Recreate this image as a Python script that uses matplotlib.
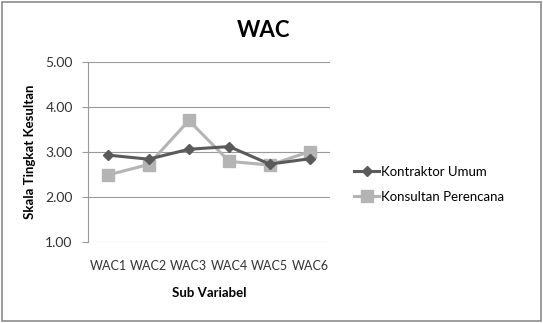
import matplotlib
matplotlib.use("Agg")
import matplotlib.pyplot as plt
from matplotlib.patches import Rectangle

plt.rcParams["font.family"] = ["Lato", "DejaVu Sans"]

categories = ["WAC1", "WAC2", "WAC3", "WAC4", "WAC5", "WAC6"]
kontraktor = [2.93, 2.84, 3.06, 3.12, 2.73, 2.85]
konsultan = [2.49, 2.72, 3.70, 2.79, 2.71, 3.01]
y_ticks = [1.0, 2.0, 3.0, 4.0, 5.0]

DARK = "#5a5a5a"
LIGHT = "#b4b4b4"
GRID = "#9a9a9a"

fig = plt.figure(figsize=(5.43, 3.23), dpi=100)
ax = fig.add_axes([0.162, 0.251, 0.446, 0.557])

x = list(range(len(categories)))
ax.plot(x, kontraktor, color=DARK, lw=2.2, marker="D", ms=5,
        label="Kontraktor Umum", zorder=3)
ax.plot(x, konsultan, color=LIGHT, lw=2.2, marker="s", ms=8,
        label="Konsultan Perencana", zorder=2)

ax.set_xlim(-0.5, 5.5)
ax.set_ylim(1.0, 5.0)
ax.set_yticks(y_ticks)
ax.set_yticklabels([f"{v:.2f}" for v in y_ticks], fontsize=10, color="#333")
ax.set_xticks(x)
ax.set_xticklabels(categories, fontsize=9, color="#333")
ax.tick_params(axis="x", length=0, pad=13)
ax.tick_params(axis="y", length=4, color=GRID, width=0.8, pad=7)
ax.grid(axis="y", color=GRID, lw=0.8)
ax.set_axisbelow(True)
for s in ["top", "right", "bottom"]:
    ax.spines[s].set_visible(False)
ax.spines["left"].set_color(GRID)
ax.spines["left"].set_linewidth(0.8)

ax.set_ylabel("Skala Tingkat Kesultan", fontsize=9.5, fontweight="bold", labelpad=7)
ax.set_xlabel("Sub Variabel", fontsize=9.5, fontweight="bold", labelpad=11)

fig.text(0.485, 0.905, "WAC", fontsize=16, fontweight="bold", ha="center", va="center")

ax.legend(loc="center left", bbox_to_anchor=(1.05, 0.32), frameon=False,
          fontsize=9.5, handlelength=1.9, handletextpad=0.1, labelspacing=0.95)

fig.patches.append(Rectangle((0.003, 0.005), 0.994, 0.99, transform=fig.transFigure,
                             fill=False, edgecolor="#8c8c8c", lw=1.2))

fig.savefig("out.png", dpi=100)
